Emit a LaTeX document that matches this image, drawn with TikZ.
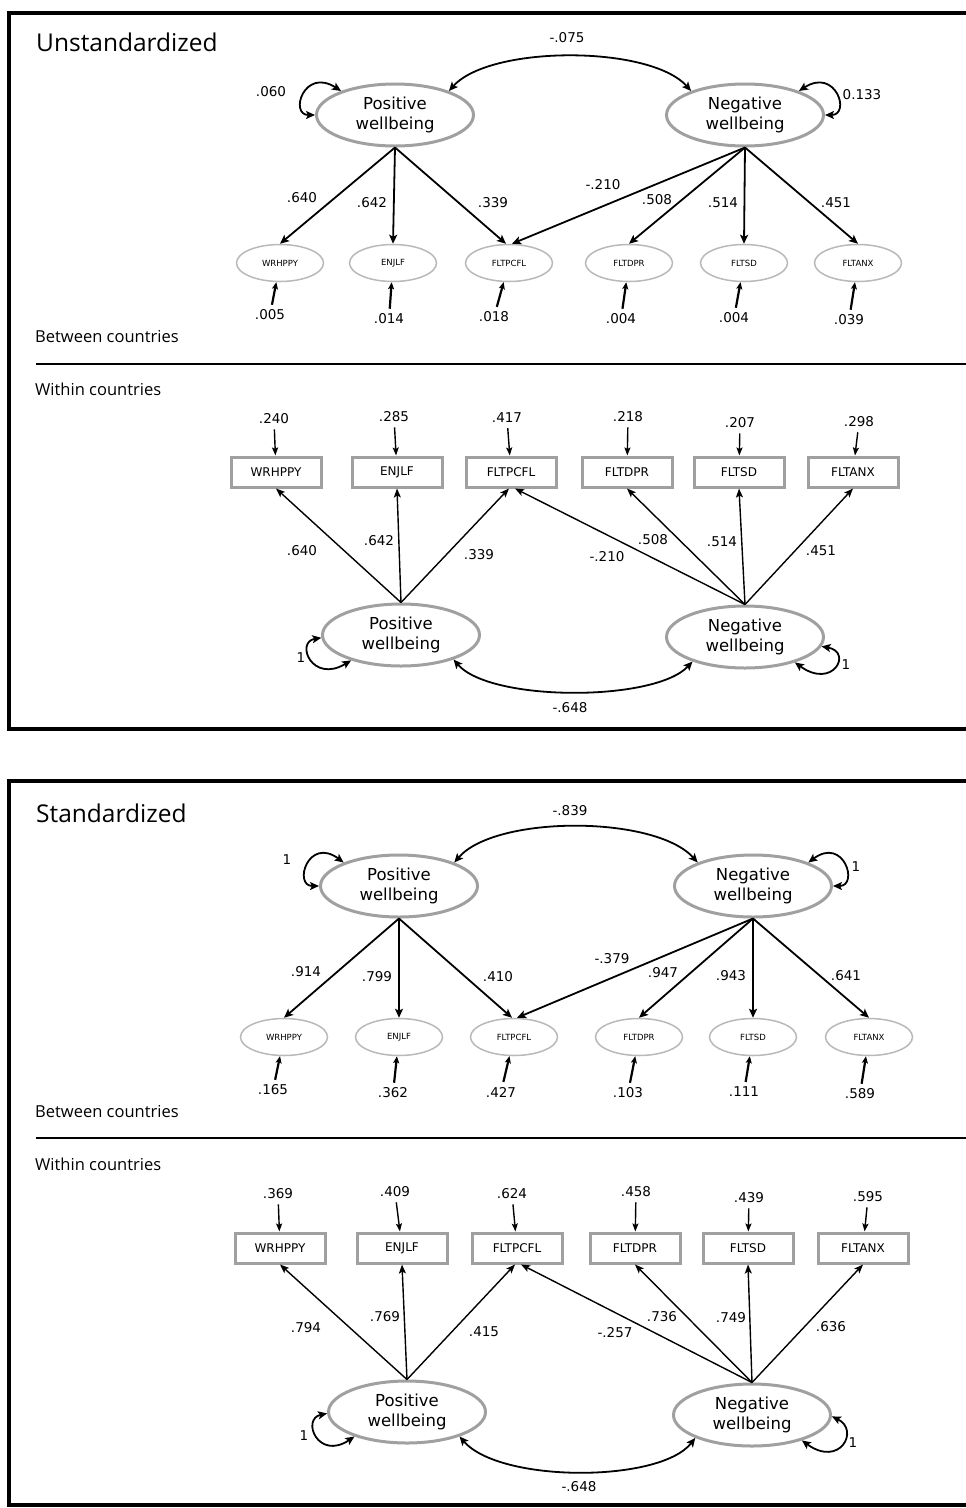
\documentclass[tikz,border=0pt]{standalone}
\usepackage{fontspec}
\setmainfont{DejaVu Sans}
\newfontfamily\headfont{Open Sans}
\usetikzlibrary{shapes.geometric,arrows.meta}
\definecolor{latgray}{RGB}{160,160,160}
\definecolor{obsgray}{RGB}{185,185,185}

\tikzset{
  latent/.style={ellipse, draw=latgray, line width=3pt, inner sep=0pt,
    minimum width=157pt, minimum height=62pt, align=center,
    font=\fontsize{16.5}{20}\selectfont},
  obsell/.style={ellipse, draw=obsgray, line width=1.5pt, inner sep=0pt,
    minimum width=87pt, minimum height=37pt, font=\fontsize{8.5}{10}\selectfont},
  obsbox/.style={rectangle, draw=latgray, line width=3pt, inner sep=0pt,
    minimum width=90pt, minimum height=30pt, font=\fontsize{12}{14}\selectfont},
  coef/.style={inner sep=0pt, font=\fontsize{13.5}{15}\selectfont},
  paneltitle/.style={anchor=west, inner sep=0pt, font=\headfont\fontsize{24.5}{28}\selectfont},
  seclabel/.style={anchor=west, inner sep=0pt, font=\headfont\fontsize{16.5}{19}\selectfont},
  panelframe/.style={line width=4.5pt},
  divider/.style={line width=1.6pt},
  arr/.style={-{Stealth[length=9pt,width=8pt,inset=2pt]}, line width=1.8pt},
  warr/.style={-{Stealth[length=9pt,width=7pt,inset=2pt]}, line width=1.4pt},
  carr/.style={{Stealth[length=9pt,width=8pt,inset=2pt]}-{Stealth[length=9pt,width=8pt,inset=2pt]}, line width=1.8pt},
  earr/.style={-{Stealth[length=7pt,width=6pt,inset=1.5pt]}, line width=2.2pt, shorten <=5pt},
  warre/.style={-{Stealth[length=8pt,width=6pt,inset=1.5pt]}, line width=1.4pt, shorten <=5pt}
}

\begin{document}
\begin{tikzpicture}[x=1pt,y=-1pt]
  \useasboundingbox (0,0) rectangle (966,1508);
  \fill[white] (0,0) rectangle (966,1508);

  % Unstandardized panel: frame and section labels
  \draw[panelframe] (975,13) -- (9,13) -- (9,729) -- (975,729);
  \draw[divider] (36,364) -- (975,364);
  \node[paneltitle] (Utitle) at (36,42) {Unstandardized};
  \node[seclabel] (Ubetween) at (35,337) {Between countries};
  \node[seclabel] (Uwithin) at (35,389) {Within countries};

  % Between countries: latent factors
  \node[latent] (UBpos) at (395,115) {Positive\\wellbeing};
  \node[latent] (UBneg) at (745,115) {Negative\\wellbeing};
  \foreach \x/\v [count=\i] in {280/WRHPPY,393/ENJLF,509/FLTPCFL,629/FLTDPR,744/FLTSD,858/FLTANX}
    \node[obsell] (UB\i) at (\x,263) {\v};

  % variances and covariance
  \draw[carr] (UBpos.24) .. controls (490,45) and (650,45) .. (UBneg.156);
  \draw[carr] (UBpos.180) .. controls (289,115) and (304,67) .. (UBpos.156);
  \draw[carr] (UBneg.0) .. controls (851,115) and (836,67) .. (UBneg.24);
  \node[coef] (UBcov) at (567,38) {-.075};
  \node[coef] (UBvpos) at (271,92) {.060};
  \node[coef] (UBvneg) at (862,95) {0.133};

  % loadings
  \foreach \j in {1,2} \draw[arr] (UBpos.south) -- (UB\j.north);
  \draw[arr] (UBpos.south) -- ([xshift=-3pt]UB3.north);
  \draw[arr] (UBneg.south) -- ([xshift=3pt]UB3.north);
  \foreach \j in {4,5,6} \draw[arr] (UBneg.south) -- (UB\j.north);
  \foreach \x/\y/\v [count=\i] in {302/198/.640,372/203/.642,493/203/.339,603/185/-.210,657/200/.508,723/203/.514,836/203/.451}
    \node[coef] (UBl\i) at (\x,\y) {\v};

  % residuals
  \foreach \x/\y/\v [count=\i] in {270/315/.005,389/319/.014,494/317/.018,621/319/.004,734/318/.004,849/320/.039}{
    \node[coef] (UBe\i) at (\x,\y) {\v};
    \draw[earr] (UBe\i) -- (UB\i);
  }

  % Within countries
  \node[latent] (UWpos) at (401,635) {Positive\\wellbeing};
  \node[latent] (UWneg) at (745,637) {Negative\\wellbeing};
  \foreach \x/\v [count=\i] in {276/WRHPPY,397/ENJLF,511/FLTPCFL,627/FLTDPR,739/FLTSD,853/FLTANX}
    \node[obsbox] (UW\i) at (\x,472) {\v};

  \foreach \j in {1,2} \draw[warr] (UWpos.north) -- (UW\j.south);
  \draw[warr] (UWpos.north) -- ([xshift=-2pt]UW3.south);
  \draw[warr] (UWneg.north) -- ([xshift=4pt]UW3.south);
  \foreach \j in {4,5,6} \draw[warr] (UWneg.north) -- (UW\j.south);
  \foreach \x/\y/\v [count=\i] in {302/551/.640,379/541/.642,479/555/.339,607/557/-.210,653/540/.508,722/542/.514,821/551/.451}
    \node[coef] (UWl\i) at (\x,\y) {\v};

  \foreach \x/\y/\v [count=\i] in {274/419/.240,394/417/.285,507/418/.417,628/417/.218,740/423/.207,859/422/.298}{
    \node[coef] (UWe\i) at (\x,\y) {\v};
    \draw[warre] (UWe\i) -- (UW\i);
  }

  \draw[carr] (UWpos.182) .. controls (295,642) and (312,684) .. (UWpos.207);
  \draw[carr] (UWneg.353) .. controls (853,652) and (833,690) .. (UWneg.333);
  \draw[carr] (UWpos.335) .. controls (490,702) and (655,702) .. (UWneg.205);
  \node[coef] (UWvpos) at (301,658) {1};
  \node[coef] (UWvneg) at (846,665) {1};
  \node[coef] (UWcov) at (570,708) {-.648};

  % Standardized panel: frame and section labels
  \draw[panelframe] (975,781) -- (9,781) -- (9,1505) -- (975,1505);
  \draw[divider] (36,1138) -- (975,1138);
  \node[paneltitle] (Stitle) at (36,813) {Standardized};
  \node[seclabel] (Sbetween) at (35,1112) {Between countries};
  \node[seclabel] (Swithin) at (35,1164) {Within countries};

  % Between countries
  \node[latent] (SBpos) at (399,886) {Positive\\wellbeing};
  \node[latent] (SBneg) at (753,886) {Negative\\wellbeing};
  \foreach \x/\v [count=\i] in {284/WRHPPY,399/ENJLF,514/FLTPCFL,639/FLTDPR,753/FLTSD,869/FLTANX}
    \node[obsell] (SB\i) at (\x,1037) {\v};

  \draw[carr] (SBpos.23) .. controls (495,815) and (655,815) .. (SBneg.157);
  \draw[carr] (SBpos.180) .. controls (293,886) and (308,836) .. (SBpos.157);
  \draw[carr] (SBneg.0) .. controls (859,886) and (844,836) .. (SBneg.23);
  \node[coef] (SBcov) at (570,811) {-.839};
  \node[coef] (SBvpos) at (287,860) {1};
  \node[coef] (SBvneg) at (856,867) {1};

  \foreach \j in {1,2} \draw[arr] (SBpos.south) -- (SB\j.north);
  \draw[arr] (SBpos.south) -- ([xshift=-2pt]SB3.north);
  \draw[arr] (SBneg.south) -- ([xshift=3pt]SB3.north);
  \foreach \j in {4,5,6} \draw[arr] (SBneg.south) -- (SB\j.north);
  \foreach \x/\y/\v [count=\i] in {306/972/.914,377/977/.799,498/977/.410,612/959/-.379,663/973/.947,731/976/.943,846/976/.641}
    \node[coef] (SBl\i) at (\x,\y) {\v};

  \foreach \x/\y/\v [count=\i] in {273/1090/.165,393/1093/.362,501/1092/.427,628/1093/.103,744/1092/.111,860/1094/.589}{
    \node[coef] (SBe\i) at (\x,\y) {\v};
    \draw[earr] (SBe\i) -- (SB\i);
  }

  % Within countries
  \node[latent] (SWpos) at (407,1412) {Positive\\wellbeing};
  \node[latent] (SWneg) at (752,1415) {Negative\\wellbeing};
  \foreach \x/\v [count=\i] in {280/WRHPPY,402/ENJLF,517/FLTPCFL,635/FLTDPR,748/FLTSD,863/FLTANX}
    \node[obsbox] (SW\i) at (\x,1248) {\v};

  \foreach \j in {1,2} \draw[warr] (SWpos.north) -- (SW\j.south);
  \draw[warr] (SWpos.north) -- ([xshift=-2pt]SW3.south);
  \draw[warr] (SWneg.north) -- ([xshift=4pt]SW3.south);
  \foreach \j in {4,5,6} \draw[warr] (SWneg.north) -- (SW\j.south);
  \foreach \x/\y/\v [count=\i] in {306/1328/.794,385/1317/.769,484/1332/.415,615/1333/-.257,662/1317/.736,731/1318/.749,831/1327/.636}
    \node[coef] (SWl\i) at (\x,\y) {\v};

  \foreach \x/\y/\v [count=\i] in {278/1194/.369,395/1192/.409,512/1194/.624,636/1192/.458,749/1198/.439,868/1197/.595}{
    \node[coef] (SWe\i) at (\x,\y) {\v};
    \draw[warre] (SWe\i) -- (SW\i);
  }

  \draw[carr] (SWpos.181) .. controls (301,1419) and (318,1461) .. (SWpos.205);
  \draw[carr] (SWneg.359) .. controls (860,1430) and (840,1468) .. (SWneg.333);
  \draw[carr] (SWpos.335) .. controls (500,1483) and (660,1483) .. (SWneg.202);
  \node[coef] (SWvpos) at (304,1436) {1};
  \node[coef] (SWvneg) at (853,1443) {1};
  \node[coef] (SWcov) at (579,1487) {-.648};
\end{tikzpicture}
\end{document}
